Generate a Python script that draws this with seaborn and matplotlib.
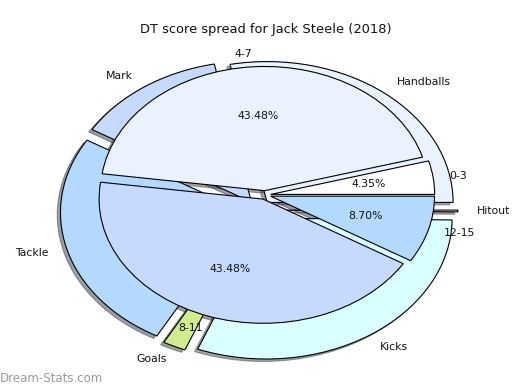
import matplotlib
matplotlib.use("Agg")
import matplotlib.pyplot as plt
import seaborn as sns

# inner pie: how many games fell in each DT score bucket
score_buckets = ["0-3", "4-7", "8-11", "12-15"]
games_in_bucket = [1, 10, 10, 2]
bucket_colors = ["#ffffff", "#ebf2ff", "#c6d9ff", "#b3d9ff"]

# outer pie: share of DT points by stat type (%)
stat_names = ["Handballs", "Mark", "Tackle", "Goals", "Kicks", "Hitout"]
stat_share = [28.2, 13.2, 25.6, 2.0, 30.8, 0.2]
stat_colors = ["#ebf2ff", "#c6d9ff", "#b3d9ff", "#d0ec8e", "#d9ffff", "#ffffff"]

title = "DT score spread for Jack Steele (2018)"
watermark = "Dream-Stats.com"


def main():
    sns.set_style("white")

    fig = plt.figure(figsize=(5.2, 3.9), dpi=100)
    ax = fig.add_axes([0, 0, 1, 1])

    edge = {"edgecolor": "black", "linewidth": 0.8}
    shadow = {"ox": -0.014, "oy": -0.014}
    txt = {"fontsize": 7.8, "color": "#111111"}

    # --- outer ring (stat types) ---
    ax.pie(stat_share, labels=stat_names, colors=stat_colors, startangle=0,
           radius=1.134, center=(-0.037, -0.121),
           explode=[0.079] * len(stat_share),
           shadow=shadow, wedgeprops=edge, textprops=txt)

    # --- inner pie (score buckets) ---
    ax.pie(games_in_bucket, labels=score_buckets, colors=bucket_colors,
           startangle=0, radius=1.0, explode=[0.035] * len(games_in_bucket),
           autopct="%1.2f%%", shadow=shadow, wedgeprops=edge, textprops=txt)

    # squashed (elliptical) look like the original
    ax.set_aspect("auto")
    ax.set_xlim(-1.616, 1.555)
    ax.set_ylim(-1.570, 1.570)
    ax.axis("off")

    fig.text(266 / 520, 1 - 30 / 390, title, ha="center", va="center",
             fontsize=9.4, color="#111111")
    fig.text(0.0, 1 - 379 / 390, watermark, ha="left", va="center",
             fontsize=8.5, color="#9a9a9a")

    fig.savefig("out.png", dpi=100)


if __name__ == "__main__":
    main()
